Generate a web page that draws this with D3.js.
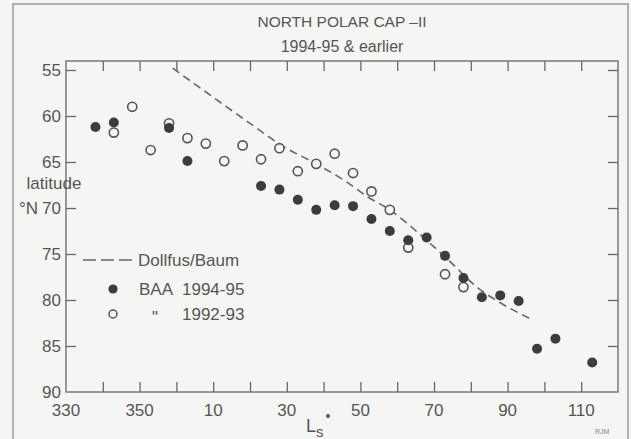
<!DOCTYPE html>
<html>
<head>
<meta charset="utf-8">
<script src="https://cdn.jsdelivr.net/npm/d3@7.9.0/dist/d3.min.js"></script>
<style>
  html, body { margin: 0; padding: 0; background: #f5f5f3; }
  svg { display: block; font-family: "Liberation Sans", Arial, sans-serif; }
</style>
</head>
<body>
<svg id="chart" width="631" height="439"></svg>
<script>
// Ls after 360 is written as 0..120 (unwrapped below)
const baaLs = [338, 343, 358, 3, 23, 28, 33, 38, 43, 48, 53, 58, 63, 68, 73, 78, 83, 88, 93, 98, 103, 113];
const baaLat = [61.2, 60.7, 61.3, 64.9, 67.6, 68.0, 69.1, 70.2, 69.7, 69.8, 71.2, 72.5, 73.5, 73.2, 75.2, 77.6, 79.7, 79.5, 80.1, 85.3, 84.2, 86.8];

const oldLs = [343, 348, 353, 358, 3, 8, 13, 18, 23, 28, 33, 38, 43, 48, 53, 58, 63, 73, 78];
const oldLat = [61.8, 59.0, 63.7, 60.8, 62.4, 63.0, 64.9, 63.2, 64.7, 63.5, 66.0, 65.2, 64.1, 66.2, 68.2, 70.2, 74.3, 77.2, 78.6];

const dollfusLs = [359, 20, 29, 37, 46, 52, 58, 66, 74, 82, 88, 96];
const dollfusLat = [54.8, 60.8, 63.3, 65.0, 67.1, 68.8, 70.2, 72.8, 75.7, 78.7, 80.3, 82.0];

const xTickLs = [340, 350, 360, 370, 380, 390, 400, 410, 420, 430, 440, 450, 460, 470];
const xLabelLs = [330, 350, 370, 390, 410, 430, 450, 470];
const xLabels = ["330", "350", "10", "30", "50", "70", "90", "110"];
const yTicks = [55, 60, 65, 70, 75, 80, 85];
const yLabels = [55, 60, 65, 70, 75, 80, 85, 90];

const ink = "#555";
const unwrap = ls => ls < 200 ? ls + 360 : ls;

const svg = d3.select("#chart");

// outer border of the figure
svg.append("rect")
    .attr("x", 13).attr("y", 4)
    .attr("width", 615).attr("height", 450)
    .attr("fill", "none")
    .attr("stroke", "#9a9a9a")
    .attr("stroke-width", 1.5);

const plotLeft = 66, plotRight = 618, plotTop = 61, plotBottom = 392;

const x = d3.scaleLinear().domain([330, 480]).range([plotLeft, plotRight]);
const y = d3.scaleLinear().domain([55, 90]).range([70, plotBottom]);

// titles
svg.append("text")
    .attr("x", 342).attr("y", 27)
    .attr("text-anchor", "middle")
    .attr("font-size", 15.5)
    .attr("fill", ink)
    .text("NORTH POLAR CAP \u2013II");
svg.append("text")
    .attr("x", 342).attr("y", 52)
    .attr("text-anchor", "middle")
    .attr("font-size", 16)
    .attr("fill", ink)
    .text("1994-95 & earlier");

// plot frame
svg.append("rect")
    .attr("x", plotLeft).attr("y", plotTop)
    .attr("width", plotRight - plotLeft).attr("height", plotBottom - plotTop)
    .attr("fill", "none")
    .attr("stroke", "#666")
    .attr("stroke-width", 1.3);

// inward ticks on all four sides
function styleAxis(g) {
    g.select(".domain").remove();
    g.selectAll(".tick line").attr("stroke", "#666").attr("stroke-width", 1.3);
    g.selectAll(".tick text").remove();
}
svg.append("g").attr("transform", `translate(0,${plotBottom})`)
    .call(d3.axisBottom(x).tickValues(xTickLs).tickSize(-10).tickFormat(""))
    .call(styleAxis);
svg.append("g").attr("transform", `translate(0,${plotTop})`)
    .call(d3.axisTop(x).tickValues(xTickLs).tickSize(-10).tickFormat(""))
    .call(styleAxis);
svg.append("g").attr("transform", `translate(${plotLeft},0)`)
    .call(d3.axisLeft(y).tickValues(yTicks).tickSize(-10).tickFormat(""))
    .call(styleAxis);
svg.append("g").attr("transform", `translate(${plotRight},0)`)
    .call(d3.axisRight(y).tickValues(yTicks).tickSize(-10).tickFormat(""))
    .call(styleAxis);

// tick labels
svg.append("g").selectAll("text")
    .data(xLabelLs)
    .join("text")
    .attr("x", d => x(d))
    .attr("y", 416)
    .attr("text-anchor", "middle")
    .attr("font-size", 17)
    .attr("fill", ink)
    .text((d, i) => xLabels[i]);

svg.append("g").selectAll("text")
    .data(yLabels)
    .join("text")
    .attr("x", 61)
    .attr("y", d => y(d) + 6)
    .attr("text-anchor", "end")
    .attr("font-size", 17)
    .attr("fill", ink)
    .text(d => d);

// axis titles
svg.append("text")
    .attr("x", 54).attr("y", 189)
    .attr("text-anchor", "middle")
    .attr("font-size", 17)
    .attr("fill", ink)
    .text("latitude");
svg.append("text")
    .attr("x", 38).attr("y", y(70) + 6)
    .attr("text-anchor", "end")
    .attr("font-size", 17)
    .attr("fill", ink)
    .text("\u00b0N");

const lsLabel = svg.append("text")
    .attr("x", 306).attr("y", 432)
    .attr("font-size", 18)
    .attr("fill", ink);
lsLabel.append("tspan").text("L");
lsLabel.append("tspan").attr("dy", 5).attr("font-size", 15).text("s");
svg.append("circle")
    .attr("cx", 328).attr("cy", 416).attr("r", 2)
    .attr("fill", ink);

svg.append("text")
    .attr("x", 595).attr("y", 434)
    .attr("font-size", 7)
    .attr("fill", "#888")
    .text("RJM");

// Dollfus/Baum curve
const dollfus = dollfusLs.map((ls, i) => [unwrap(ls), dollfusLat[i]]);
const line = d3.line()
    .x(d => x(d[0]))
    .y(d => y(d[1]))
    .curve(d3.curveMonotoneX);
svg.append("path")
    .attr("d", line(dollfus))
    .attr("fill", "none")
    .attr("stroke", "#666")
    .attr("stroke-width", 1.6)
    .attr("stroke-dasharray", "8,5");

// 1992-93 open circles
const oldPts = oldLs.map((ls, i) => [unwrap(ls), oldLat[i]]);
svg.append("g").selectAll("circle")
    .data(oldPts)
    .join("circle")
    .attr("cx", d => x(d[0]))
    .attr("cy", d => y(d[1]))
    .attr("r", 4.6)
    .attr("fill", "#f5f5f3")
    .attr("stroke", "#555")
    .attr("stroke-width", 1.6);

// BAA 1994-95 filled circles
const baaPts = baaLs.map((ls, i) => [unwrap(ls), baaLat[i]]);
svg.append("g").selectAll("circle")
    .data(baaPts)
    .join("circle")
    .attr("cx", d => x(d[0]))
    .attr("cy", d => y(d[1]))
    .attr("r", 5)
    .attr("fill", "#3c3c3c");

// legend
const legend = svg.append("g");
legend.append("line")
    .attr("x1", 83).attr("x2", 136)
    .attr("y1", 260).attr("y2", 260)
    .attr("stroke", "#666")
    .attr("stroke-width", 1.6)
    .attr("stroke-dasharray", "13,5");
legend.append("text")
    .attr("x", 138).attr("y", 266)
    .attr("font-size", 17).attr("fill", ink)
    .text("Dollfus/Baum");
legend.append("circle")
    .attr("cx", 113).attr("cy", 289).attr("r", 4.6)
    .attr("fill", "#3c3c3c");
legend.append("text")
    .attr("x", 139).attr("y", 295)
    .attr("font-size", 17).attr("fill", ink)
    .text("BAA");
legend.append("text")
    .attr("x", 182).attr("y", 295)
    .attr("font-size", 17).attr("fill", ink)
    .text("1994-95");
legend.append("circle")
    .attr("cx", 113).attr("cy", 314).attr("r", 4)
    .attr("fill", "#f5f5f3")
    .attr("stroke", "#555")
    .attr("stroke-width", 1.5);
legend.append("text")
    .attr("x", 155).attr("y", 323)
    .attr("text-anchor", "middle")
    .attr("font-size", 17).attr("fill", ink)
    .text("\"");
legend.append("text")
    .attr("x", 182).attr("y", 320)
    .attr("font-size", 17).attr("fill", ink)
    .text("1992-93");
</script>
</body>
</html>
